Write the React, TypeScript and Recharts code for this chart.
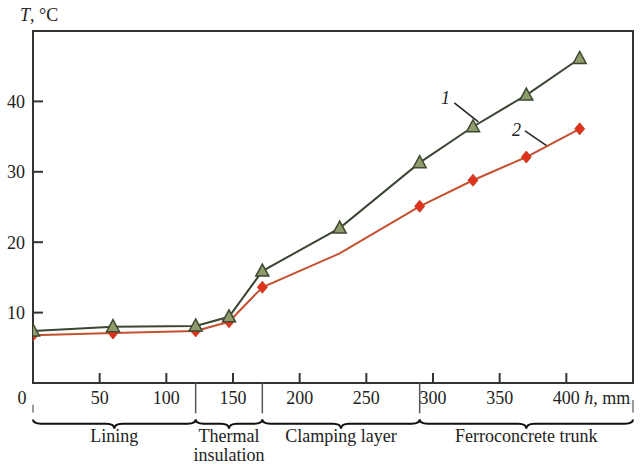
import React from 'react';
import {
  ComposedChart,
  Line,
  XAxis,
  YAxis,
  ReferenceArea,
  ReferenceLine,
  ReferenceDot,
} from 'recharts';

// depth into the wall, mm
const depth = [0, 60, 122, 147, 172, 230, 290, 330, 370, 410];
// curve 1 (triangles) and curve 2 (diamonds), deg C
const tempCurve1 = [7.4, 8.0, 8.1, 9.4, 15.9, 22.0, 31.3, 36.4, 40.9, 46.1];
const tempCurve2 = [6.8, 7.1, 7.4, 8.7, 13.6, 18.4, 25.1, 28.8, 32.1, 36.1];
const markedCurve2 = [true, true, true, true, true, false, true, true, true, true];

const xTicks = [0, 50, 100, 150, 200, 250, 300, 350, 400];
const yTicks = [10, 20, 30, 40];

const layerBounds = [0, 122, 172, 290, 450];
const layerNames = [['Lining'], ['Thermal', 'insulation'], ['Clamping layer'], ['Ferroconcrete trunk']];

const data = depth.map((h, i) => ({
  h,
  t1: tempCurve1[i],
  t2: tempCurve2[i],
  mark2: markedCurve2[i],
}));

const FONT = "'Liberation Serif', 'Times New Roman', 'DejaVu Serif', serif";
const INK = '#222';
const txt = { fontFamily: FONT, fontSize: 18 };

const XTick = (props: any) => {
  const { x, y, payload } = props;
  const v = payload.value;
  if (v === 0) {
    return (
      <text x={x - 11} y={y + 21} textAnchor="middle" style={txt} fill={INK}>
        0
      </text>
    );
  }
  return (
    <g>
      <line x1={x} x2={x} y1={y} y2={y - 10} stroke="#333" strokeWidth={2} />
      {v === 400 ? (
        <text x={x - 13.5} y={y + 21} style={txt} fill={INK}>
          400 <tspan fontStyle="italic">h</tspan>, mm
        </text>
      ) : (
        <text x={x} y={y + 21} textAnchor="middle" style={txt} fill={INK}>
          {v}
        </text>
      )}
    </g>
  );
};

const YTick = (props: any) => {
  const { x, y, payload } = props;
  return (
    <g>
      <line x1={x} x2={x + 10} y1={y} y2={y} stroke="#333" strokeWidth={2} />
      <text x={x - 8} y={y + 6.5} textAnchor="end" style={txt} fill={INK}>
        {payload.value}
      </text>
    </g>
  );
};

const Triangle = (props: any) => {
  const { cx, cy } = props;
  if (cx == null || cy == null) return null;
  return (
    <path
      d={`M${cx},${cy - 7} L${cx + 6.5},${cy + 5} L${cx - 6.5},${cy + 5} Z`}
      fill="#8e9b6c"
      stroke="#3e4a30"
      strokeWidth={1.5}
    />
  );
};

const Diamond = (props: any) => {
  const { cx, cy, payload } = props;
  if (cx == null || cy == null || !payload.mark2) return null;
  return (
    <path
      d={`M${cx},${cy - 6} L${cx + 5},${cy} L${cx},${cy + 6} L${cx - 5},${cy} Z`}
      fill="#e0301e"
      stroke="#c44a2c"
      strokeWidth={1}
    />
  );
};

const braceShape = (lines: string[]) => (props: any) => {
  const { x, y, width, height } = props;
  const ym = y + height * 0.45;
  const yb = y + height;
  const mid = x + width / 2;
  const r = 8;
  const d = `M${x},${y} Q${x},${ym} ${x + r},${ym} L${mid - r},${ym} Q${mid},${ym} ${mid},${yb} Q${mid},${ym} ${mid + r},${ym} L${x + width - r},${ym} Q${x + width},${ym} ${x + width},${y}`;
  return (
    <g>
      <path d={d} fill="none" stroke="#111" strokeWidth={2} />
      {lines.map((s, i) => (
        <text key={s} x={mid} y={yb + 13 + i * 19} textAnchor="middle" style={txt} fill={INK}>
          {s}
        </text>
      ))}
    </g>
  );
};

const textMark = (s: string, dx: number, dy: number) => (props: any) => (
  <text
    x={props.cx + dx}
    y={props.cy + dy}
    style={{ fontFamily: FONT, fontSize: 18, fontStyle: 'italic' }}
    fill={INK}
  >
    {s}
  </text>
);

export default function App() {
  return (
    <div style={{ position: 'absolute', left: 0, top: 0, background: '#fff' }}>
      <ComposedChart
        width={642}
        height={464}
        data={data}
        margin={{ top: 31, right: 9, bottom: 51, left: 0 }}
      >
        <XAxis
          dataKey="h"
          type="number"
          domain={[0, 450]}
          ticks={xTicks}
          tick={<XTick />}
          tickLine={false}
          axisLine={false}
          tickSize={0}
          tickMargin={0}
          height={30}
          allowDataOverflow
        />
        <YAxis
          type="number"
          domain={[0, 50]}
          ticks={yTicks}
          tick={<YTick />}
          tickLine={false}
          axisLine={false}
          tickSize={0}
          tickMargin={0}
          width={33}
          allowDataOverflow
        />
        <ReferenceArea x1={0} x2={450} y1={0} y2={50} fill="none" stroke="#333" strokeWidth={2} fillOpacity={0} />

        {layerBounds.slice(1, -1).map((b) => (
          <ReferenceLine
            key={b}
            segment={[{ x: b, y: 0 }, { x: b, y: -4.3 }]}
            stroke="#555"
            strokeWidth={1.5}
            ifOverflow="visible"
          />
        ))}
        <ReferenceLine segment={[{ x: 0, y: -3.1 }, { x: 0, y: -4.2 }]} stroke="#777" strokeWidth={1.5} ifOverflow="visible" />
        <ReferenceLine segment={[{ x: 450, y: -2.4 }, { x: 450, y: -4.2 }]} stroke="#777" strokeWidth={1.5} ifOverflow="visible" />

        {layerNames.map((lines, i) => (
          <ReferenceArea
            key={lines[0]}
            x1={layerBounds[i]}
            x2={layerBounds[i + 1]}
            y1={-5.2}
            y2={-6.5}
            ifOverflow="visible"
            shape={braceShape(lines)}
          />
        ))}

        <ReferenceDot x={0} y={50} r={0} ifOverflow="visible" shape={(p: any) => (
          <text x={p.cx - 13} y={p.cy - 10} style={{ fontFamily: FONT, fontSize: 18 }} fill={INK}>
            <tspan fontStyle="italic">T</tspan>, °C
          </text>
        )} />

        <ReferenceLine segment={[{ x: 316, y: 39.8 }, { x: 334, y: 37.1 }]} stroke="#222" strokeWidth={1.5} ifOverflow="visible" />
        <ReferenceDot x={309} y={40.2} r={0} ifOverflow="visible" shape={textMark('1', -4, 4)} />
        <ReferenceLine segment={[{ x: 369, y: 35.8 }, { x: 386, y: 33.6 }]} stroke="#222" strokeWidth={1.5} ifOverflow="visible" />
        <ReferenceDot x={363} y={35.9} r={0} ifOverflow="visible" shape={textMark('2', -5, 6)} />

        <Line
          type="linear"
          dataKey="t2"
          stroke="#c4512f"
          strokeWidth={2}
          dot={<Diamond />}
          activeDot={false}
          isAnimationActive={false}
        />
        <Line
          type="linear"
          dataKey="t1"
          stroke="#3b4634"
          strokeWidth={2}
          dot={<Triangle />}
          activeDot={false}
          isAnimationActive={false}
        />
      </ComposedChart>
    </div>
  );
}
